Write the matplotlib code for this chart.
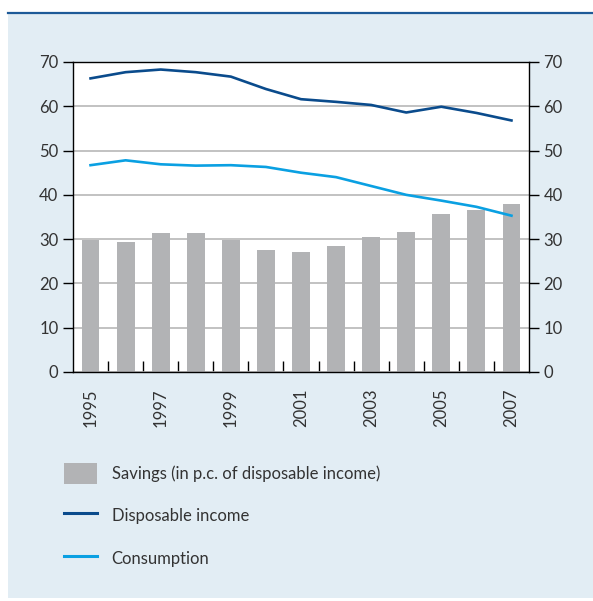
import matplotlib.pyplot as plt
import numpy as np
from matplotlib.patches import Rectangle, Patch
from matplotlib.lines import Line2D

plt.rcParams['font.family'] = ['Lato', 'DejaVu Sans']

years = [1995, 1996, 1997, 1998, 1999, 2000, 2001, 2002, 2003, 2004, 2005, 2006, 2007]
savings = [29.8, 29.4, 31.4, 31.4, 29.8, 27.5, 27.1, 28.5, 30.5, 31.6, 35.7, 36.6, 37.9]
disposable = [66.3, 67.7, 68.3, 67.7, 66.7, 63.9, 61.6, 61.0, 60.3, 58.6, 59.9, 58.5, 56.8]
consumption = [46.7, 47.8, 46.9, 46.6, 46.7, 46.3, 45.0, 44.0, 42.0, 40.0, 38.7, 37.3, 35.3]

bar_col = '#b2b3b5'
dark_blue = '#0a4b8c'
light_blue = '#0aa0e2'
panel_col = '#e2edf4'
txt_col = '#333333'

W, H = 593, 601
fig = plt.figure(figsize=(W / 100, H / 100), dpi=100)
fig.patch.set_facecolor('white')

# background panel and top rule
fig.patches.append(Rectangle((8 / W, 3 / H), 1 - 8 / W, (598 - 14) / H,
                             transform=fig.transFigure, facecolor=panel_col,
                             edgecolor='none', zorder=-10))
fig.lines.append(Line2D([8 / W, 1], [1 - 13 / H, 1 - 13 / H], transform=fig.transFigure,
                        color='#1d5a98', lw=1.6, zorder=-5))

ax = fig.add_axes([73 / W, 1 - 372 / H, (529 - 73) / W, (372 - 62) / H])
ax.set_zorder(2)
ax.set_facecolor('white')

x = np.arange(len(years))
ax.bar(x, savings, width=0.51, color=bar_col, zorder=2)
ax.plot(x, disposable, color=dark_blue, lw=1.9, zorder=3)
ax.plot(x, consumption, color=light_blue, lw=1.9, zorder=3)

ax.set_xlim(-0.5, len(years) - 0.5)
ax.set_ylim(0, 70)
ax.set_yticks(range(0, 71, 10))
ax.yaxis.grid(True, color='#b8b8b8', lw=1.2, zorder=1)
ax.set_axisbelow(True)

for s in ax.spines.values():
    s.set_color('black')
    s.set_linewidth(1.0)

ax.tick_params(axis='y', which='major', direction='out', length=7.5, width=1.0,
               color='black', labelcolor=txt_col, labelsize=12, pad=3,
               left=True, right=True, labelleft=True, labelright=True)

# year labels on every other bar, separators between bars
ax.set_xticks(x[::2])
ax.set_xticklabels([str(y) for y in years[::2]], rotation=90)
ax.set_xticks(np.arange(0.5, len(years) - 1, 1.0), minor=True)
ax.tick_params(axis='x', which='major', length=0, pad=12, labelsize=12, labelcolor=txt_col)
ax.tick_params(axis='x', which='minor', direction='in', length=8, width=1.0, color='black')

handles = [Patch(facecolor=bar_col, edgecolor='none'),
           Line2D([], [], color=dark_blue, lw=2.2),
           Line2D([], [], color=light_blue, lw=2.2)]
labels = ['Savings (in p.c. of disposable income)', 'Disposable income', 'Consumption']
fig.legend(handles, labels, loc='upper left', bbox_to_anchor=(64 / W, 1 - 463 / H),
           frameon=False, fontsize=12, handlelength=2.0, handleheight=1.6,
           handletextpad=0.85, labelspacing=1.25, labelcolor=txt_col, borderaxespad=0,
           borderpad=0)

fig.savefig('out.png', dpi=100, facecolor=fig.get_facecolor())
